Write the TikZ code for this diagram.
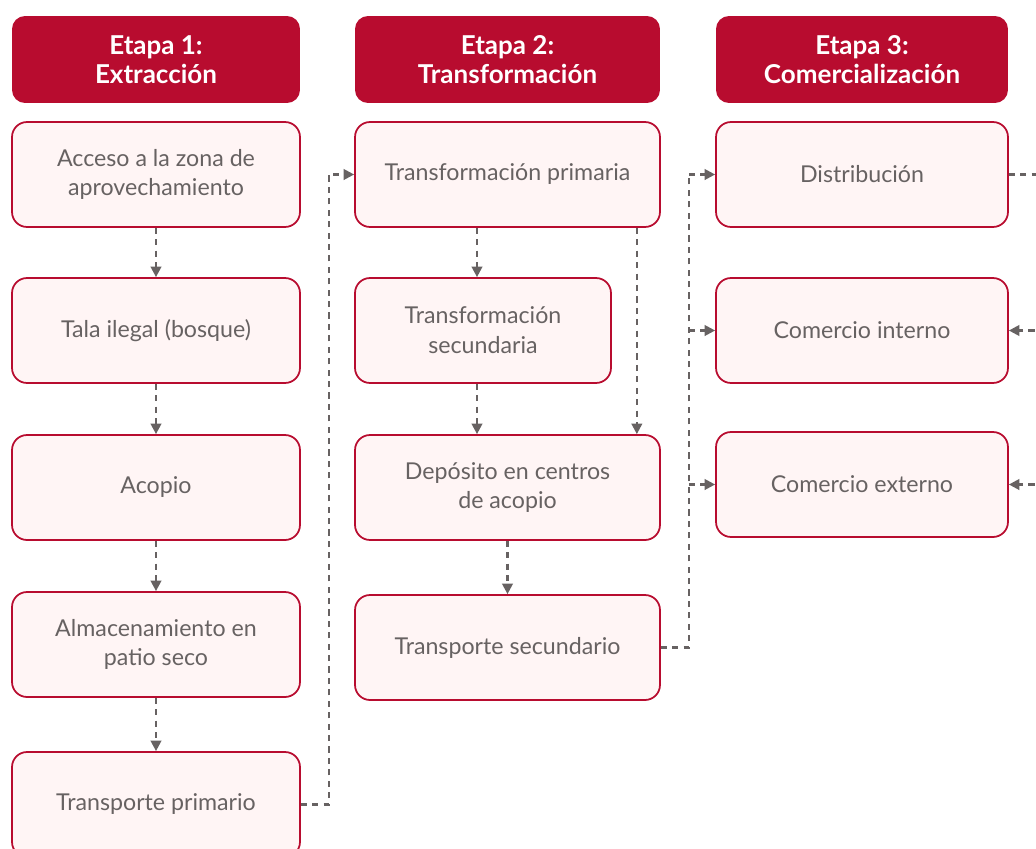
\documentclass[tikz,border=0pt]{standalone}
\usepackage{fontspec}
\setmainfont{Lato}
\usepackage{tikz}
\usetikzlibrary{arrows.meta}
\definecolor{carmin}{HTML}{B80C2F}
\definecolor{rosa}{HTML}{FFF5F5}
\definecolor{gris}{HTML}{676262}

\begin{document}
\begin{tikzpicture} [x=0.02cm,y=-0.02cm,
  etapa/.style= {shape=rectangle,rounded corners=0.26cm,fill=carmin,text=white,font=\bfseries\fontsize{14.8}{16.6}\selectfont,align=center,minimum height=1.74cm,inner sep=0},
  paso/.style= {shape=rectangle,rounded corners=0.3cm,draw=carmin,line width=1pt,fill=rosa,text=gris,font=\fontsize{13.2}{17}\selectfont,align=center,minimum height=2.1cm,inner sep=0},
  trazo/.style= {draw=gris,line width=1.3pt,dash pattern=on 3.5pt off 3pt},
  flecha/.style= {trazo,-{Triangle[length=6pt,width=6pt]}}]

\useasboundingbox (0,0) rectangle (1036,849);
\clip (0,0) rectangle (1036,849);

% cabeceras
\node[etapa,minimum width=5.76cm] (h1) at (156,59.5) {Etapa 1:\\Extracción};
\node[etapa,minimum width=6.1cm] (h2) at (507.5,59.5) {Etapa 2:\\Transformación};
\node[etapa,minimum width=5.84cm] (h3) at (862,59.5) {Etapa 3:\\Comercialización};

% etapa 1
\foreach \i/\y/\txt in {1/174.5/{Acceso a la zona de\\aprovechamiento},2/330.5/{Tala ilegal (bosque)},3/487.5/{Acopio},4/644.5/{Almacenamiento en\\patio seco},5/804.5/{Transporte primario}}{%
  \node[paso,minimum width=5.76cm] (e\i) at (156,\y) {\txt};}
\foreach \i in {1,...,4}{%
  \pgfmathtruncatemacro\j{\i+1}
  \draw[flecha] (e\i) -- (e\j);}

% etapa 2
\node[paso,minimum width=6.1cm] (t1) at (507.5,174.5) {Transformación primaria};
\node[paso,minimum width=5.12cm] (t2) at (483,330.5) {Transformación\\secundaria};
\node[paso,minimum width=6.1cm] (t3) at (507.5,487.5) {Depósito en centros\\de acopio};
\node[paso,minimum width=6.1cm] (t4) at (507.5,647.5) {Transporte secundario};

% etapa 3
\node[paso,minimum width=5.84cm] (c1) at (862,174.5) {Distribución};
\node[paso,minimum width=5.84cm] (c2) at (862,330.5) {Comercio interno};
\node[paso,minimum width=5.84cm] (c3) at (862,484.5) {Comercio externo};

\draw[flecha] (e5.east) -- ++(28,0) |- (t1.west);
\draw[flecha] ([xshift=-0.12cm]t2.north |- t1.south) -- ([xshift=-0.12cm]t2.north);
\draw[flecha] ([xshift=-0.12cm]t2.south) -- ([xshift=-0.12cm]t2.south |- t3.north);
\draw[flecha] ([xshift=-0.48cm]t1.south east) -- ([xshift=-0.48cm]t3.north east);
\draw[flecha] (t3) -- (t4);

\draw[trazo] (t4.east) -- ++(28,0) coordinate (bus) -- (bus |- c1.west);
\foreach \n in {c1,c2,c3}  {\draw[flecha] (bus |- \n.west) -- (\n.west);}

\draw[trazo] (c1.east) -- ++(60,0) coordinate (bus2) -- (bus2 |- c3.east);
\foreach \n in {c2,c3}  {\draw[flecha] (bus2 |- \n.east) -- (\n.east);}
\end{tikzpicture}
\end{document}
